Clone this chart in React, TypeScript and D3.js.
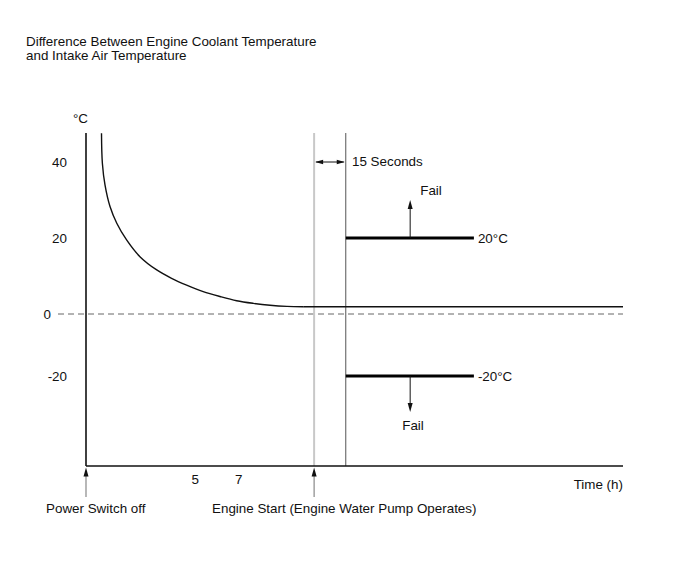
import React from "react";
import * as d3 from "d3";

// ---- data ----
const titleLines = ["Difference Between Engine Coolant Temperature", "and Intake Air Temperature"];
const yTickValues = [40, 20, 0, -20];
const xTickValues = [5, 7];
const curveTime = [0.71, 0.75, 0.87, 1.1, 1.41, 1.86, 2.47, 3.24, 3.92, 4.61, 5.37, 6.14, 6.9, 7.67, 8.43, 9.2, 9.95];
const curveDiff = [47.6, 39.7, 34.0, 28.3, 23.9, 19.5, 15.1, 11.6, 9.4, 7.6, 5.9, 4.6, 3.5, 2.8, 2.3, 2.0, 1.9];
const thresholds = [20, -20];
const thresholdLabels = ["20°C", "-20°C"];
const powerOffTime = 0;
const engineStartTime = 10.45;
const checkStartTime = 11.9;
const thresholdEndTime = 17.77;
const failArrowTime = 14.85;
const xMax = 24.6;
const yTop = 47.4;
const yBottom = -49;

const W = 690;
const H = 562;
const FONT = "'Liberation Sans', Arial, sans-serif";

export default function App() {
  const x = d3.scaleLinear().domain([0, xMax]).range([86, 623]);
  // piecewise scale: diagram is not symmetric about 0
  const y = d3.scaleLinear().domain([yBottom, 0, yTop]).range([466, 314, 134]);

  const line = d3
    .line<number>()
    .x((_, i) => x(curveTime[i]))
    .y((d) => y(d))
    .curve(d3.curveCatmullRom.alpha(0.5));

  const lastT = curveTime[curveTime.length - 1];
  const lastV = curveDiff[curveDiff.length - 1];

  const x0 = x(0);
  const xEnd = x(xMax);
  const yAxisBottom = 466;
  const yAxisTop = 133;

  const xs = x(engineStartTime);
  const xc = x(checkStartTime);
  const xt = x(thresholdEndTime);
  const xf = x(failArrowTime);

  const txt = { fontFamily: FONT, fontSize: 13.4, fill: "#111" } as const;

  const upHead = (cx: number, tipY: number) =>
    `M${cx},${tipY} L${cx - 2.5},${tipY + 9} L${cx + 2.5},${tipY + 9} Z`;
  const downHead = (cx: number, tipY: number) =>
    `M${cx},${tipY} L${cx - 2.5},${tipY - 9} L${cx + 2.5},${tipY - 9} Z`;

  const arrowY = 162;

  return (
    <svg width={W} height={H} style={{ position: "absolute", left: 0, top: 0, background: "#fff" }}>
      {titleLines.map((t, i) => (
        <text key={t} x={26} y={45.5 + i * 14} {...txt}>
          {t}
        </text>
      ))}

      <text x={73} y={123} {...txt}>°C</text>

      {/* zero dashed line */}
      <line x1={58} x2={xEnd} y1={y(0)} y2={y(0)} stroke="#666" strokeWidth={1} strokeDasharray="6,4" />

      {/* vertical event lines */}
      <line x1={xs} x2={xs} y1={yAxisTop} y2={yAxisBottom} stroke="#c8c8c8" strokeWidth={2} />
      <line x1={xc} x2={xc} y1={yAxisTop} y2={yAxisBottom} stroke="#555" strokeWidth={1} />

      {/* curve */}
      <path d={line(curveDiff) || ""} fill="none" stroke="#111" strokeWidth={1.4} />
      <line x1={x(lastT)} x2={xEnd} y1={y(lastV)} y2={y(lastV)} stroke="#111" strokeWidth={1.4} />

      {/* axes */}
      <line x1={x0} x2={x0} y1={yAxisTop} y2={yAxisBottom} stroke="#111" strokeWidth={1.6} />
      <line x1={x0} x2={xEnd} y1={yAxisBottom} y2={yAxisBottom} stroke="#111" strokeWidth={1.6} />

      {yTickValues.map((v) => (
        <text key={v} x={v === 0 ? 51 : 67} y={y(v) + 5} textAnchor="end" {...txt}>
          {v}
        </text>
      ))}
      {xTickValues.map((v) => (
        <text key={v} x={x(v)} y={484} textAnchor="middle" {...txt}>
          {v}
        </text>
      ))}
      <text x={623} y={489} textAnchor="end" {...txt}>Time (h)</text>

      {/* 15 seconds dimension arrow */}
      <line x1={xs + 2} x2={xc - 2} y1={arrowY} y2={arrowY} stroke="#111" strokeWidth={1} />
      <path d={`M${xs + 1},${arrowY} L${xs + 9},${arrowY - 2.2} L${xs + 9},${arrowY + 2.2} Z`} fill="#111" />
      <path d={`M${xc - 1},${arrowY} L${xc - 9},${arrowY - 2.2} L${xc - 9},${arrowY + 2.2} Z`} fill="#111" />
      <text x={352} y={166} {...txt}>15 Seconds</text>

      {/* thresholds */}
      {thresholds.map((t, i) => (
        <g key={t}>
          <line x1={xc} x2={xt} y1={y(t)} y2={y(t)} stroke="#000" strokeWidth={3} />
          <text x={xt + 4} y={y(t) + 5} {...txt}>{thresholdLabels[i]}</text>
        </g>
      ))}

      {/* fail arrows */}
      <line x1={xf} x2={xf} y1={y(20)} y2={205} stroke="#111" strokeWidth={1} />
      <path d={upHead(xf, 200)} fill="#111" />
      <text x={431} y={195} textAnchor="middle" {...txt}>Fail</text>

      <line x1={xf} x2={xf} y1={y(-20)} y2={407} stroke="#111" strokeWidth={1} />
      <path d={downHead(xf, 412)} fill="#111" />
      <text x={413} y={430} textAnchor="middle" {...txt}>Fail</text>

      {/* event arrows below axis */}
      {[powerOffTime, engineStartTime].map((t) => (
        <g key={t}>
          <line x1={x(t)} x2={x(t)} y1={497} y2={474} stroke="#888" strokeWidth={1.2} />
          <path d={upHead(x(t), 467.5)} fill="#111" />
        </g>
      ))}
      <text x={46} y={513} {...txt}>Power Switch off</text>
      <text x={212} y={513} {...txt}>Engine Start (Engine Water Pump Operates)</text>
    </svg>
  );
}
